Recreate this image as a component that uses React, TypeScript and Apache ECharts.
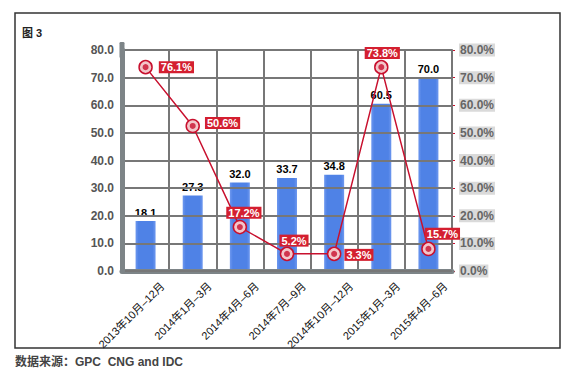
import React, { useEffect, useRef } from "react";
import * as echarts from "echarts";

const categories = [
  "2013年10月–12月",
  "2014年1月–3月",
  "2014年4月–6月",
  "2014年7月–9月",
  "2014年10月–12月",
  "2015年1月–3月",
  "2015年4月–6月",
];
const shipments = [18.1, 27.3, 32.0, 33.7, 34.8, 60.5, 70.0];
const growthPlotted = [73.8, 52.5, 15.9, 6.2, 6.2, 73.8, 8.0];
const growthLabels = ["76.1%", "50.6%", "17.2%", "5.2%", "3.3%", "73.8%", "15.7%"];
const leftTicks = { min: 0, max: 80, interval: 10 };

const FONT = "'Liberation Sans', Arial, 'Noto Sans CJK SC', sans-serif";
const RED = "#c8102e";

const labelPlacement: any[] = [
  { position: "right", distance: 6, offset: [0, 0] },
  { position: "right", distance: 5, offset: [0, -3] },
  { position: "top", distance: 1, offset: [4, 0] },
  { position: "top", distance: 0, offset: [7, 0] },
  { position: "right", distance: 3, offset: [0, 1] },
  { position: "top", distance: 1, offset: [1, 0] },
  { position: "top", distance: 2, offset: [14, 0] },
];

export default function App() {
  const ref = useRef<HTMLDivElement>(null);
  useEffect(() => {
    const chart = echarts.init(ref.current!, undefined, { renderer: "svg" });
    chart.setOption({
      animation: false,
      backgroundColor: "#ffffff",
      textStyle: { fontFamily: FONT },
      grid: { left: 122, right: 120, top: 50, bottom: 110, containLabel: false },
      graphic: [
        {
          type: "rect",
          shape: { x: 15, y: 13, width: 545, height: 335 },
          style: { fill: "none", stroke: "#333", lineWidth: 1.5 },
          z: 100,
        },
        {
          type: "text",
          x: 22,
          y: 27,
          style: { text: "图 3", font: `bold 11px ${FONT}`, fill: "#222" },
        },
        {
          type: "text",
          x: 15,
          y: 356,
          style: {
            text: "数据来源：GPC  CNG and IDC",
            font: `bold 12px ${FONT}`,
            fill: "#444",
          },
        },
      ],
      xAxis: {
        type: "category",
        data: categories,
        boundaryGap: true,
        axisLine: {
          show: true,
          lineStyle: { color: "#7d8487", width: 5, cap: "round" },
        },
        axisTick: { show: false },
        splitLine: { show: true, lineStyle: { color: "#777", width: 2 } },
        axisLabel: {
          rotate: 45,
          interval: 0,
          fontSize: 11,
          color: "#111",
          margin: 30,
          padding: [0, -24, 0, 0],
        },
        z: 5,
      },
      yAxis: [
        {
          type: "value",
          min: leftTicks.min,
          max: leftTicks.max,
          interval: leftTicks.interval,
          axisLine: {
            show: true,
            lineStyle: { color: "#7d8487", width: 5, cap: "round" },
            symbol: ["none", "roundRect"],
            symbolSize: [5, 16],
          },
          axisTick: { show: false },
          splitLine: { show: true, lineStyle: { color: "#777", width: 2 } },
          axisLabel: {
            formatter: (v: number) => v.toFixed(1),
            fontSize: 12,
            fontWeight: "bold",
            color: "#555",
            margin: 8,
          },
          z: 6,
        },
        {
          type: "value",
          min: leftTicks.min,
          max: leftTicks.max,
          interval: leftTicks.interval,
          position: "right",
          axisLine: { show: true, lineStyle: { color: "#777", width: 2 } },
          axisTick: { show: true, length: 3, lineStyle: { color: RED, width: 1 } },
          splitLine: { show: false },
          axisLabel: {
            formatter: (v: number) => v.toFixed(1) + "%",
            fontSize: 12,
            fontWeight: "bold",
            color: "#666",
            backgroundColor: "#dadada",
            padding: [1, 1, 0, 1],
            margin: 7,
          },
        },
      ],
      series: [
        {
          type: "bar",
          data: shipments,
          barWidth: 20,
          itemStyle: {
            color: new echarts.graphic.LinearGradient(0, 0, 1, 0, [
              { offset: 0, color: "#6e98ef" },
              { offset: 0.15, color: "#4f82e6" },
              { offset: 0.85, color: "#4f82e6" },
              { offset: 1, color: "#6e98ef" },
            ]),
          },
          label: {
            show: true,
            position: "top",
            distance: 3,
            formatter: (p: any) => p.value.toFixed(1),
            fontSize: 11,
            fontWeight: "bold",
            color: "#000",
          },
          z: 2,
        },
        {
          type: "line",
          yAxisIndex: 1,
          data: growthPlotted.map((v, i) => ({
            value: v,
            label: labelPlacement[i],
          })),
          symbol: "circle",
          symbolSize: 13,
          lineStyle: { color: RED, width: 1.5 },
          itemStyle: { color: "#f3c6ca", borderColor: RED, borderWidth: 1.5 },
          label: {
            show: true,
            formatter: (p: any) => growthLabels[p.dataIndex],
            fontSize: 11,
            fontWeight: "bold",
            color: "#fff",
            backgroundColor: "#d41f30",
            padding: [1, 2, 0, 2],
          },
          z: 10,
        },
        {
          type: "scatter",
          yAxisIndex: 1,
          data: growthPlotted,
          symbol: "circle",
          symbolSize: 6,
          itemStyle: { color: RED },
          silent: true,
          z: 11,
        },
      ],
    });
    return () => chart.dispose();
  }, []);
  return (
    <div
      ref={ref}
      style={{ position: "fixed", left: 0, top: 0, width: 572, height: 381 }}
    />
  );
}
